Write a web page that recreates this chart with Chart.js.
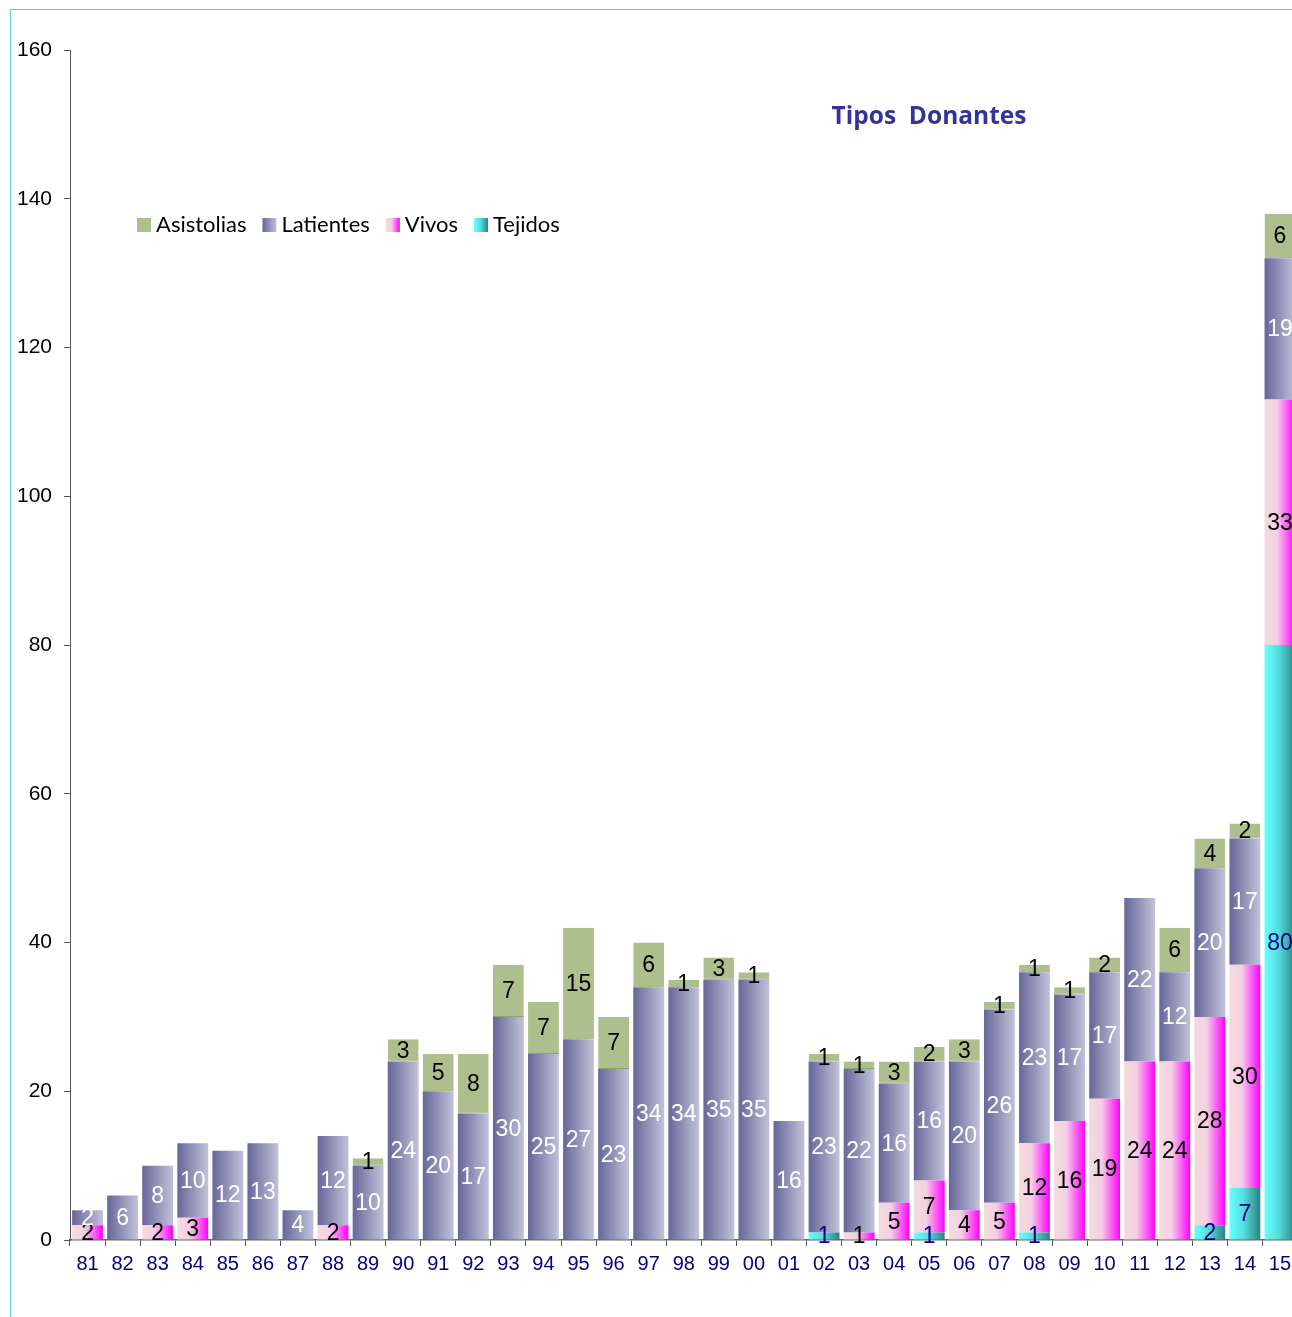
<!DOCTYPE html>
<html>
<head>
<meta charset="utf-8">
<script src="https://cdn.jsdelivr.net/npm/chart.js@4/dist/chart.umd.min.js"></script>
<style>
  html, body { margin: 0; padding: 0; background: #fff; overflow: hidden; }
  #frame { position: absolute; left: 10px; top: 9px; width: 1400px; height: 1400px;
           border-top: 1px solid #5fd0d0; border-left: 1px solid #5fd0d0; }
  #wrap { position: absolute; left: 0; top: 0; width: 1302px; height: 1317px; }
</style>
</head>
<body>
<div id="frame"></div>
<div id="wrap"><canvas id="donantes" width="1302" height="1317"></canvas></div>
<script>
var years = ['81','82','83','84','85','86','87','88','89','90','91','92','93','94','95','96','97','98','99',
             '00','01','02','03','04','05','06','07','08','09','10','11','12','13','14','15'];
var tejidos    = [0,0,0,0,0,0,0,0,0,0, 0,0,0,0,0,0,0,0,0,0, 0,1,0,0,1,0,0,1,0,0, 0,0,2,7,80];
var vivos      = [2,0,2,3,0,0,0,2,0,0, 0,0,0,0,0,0,0,0,0,0, 0,0,1,5,7,4,5,12,16,19, 24,24,28,30,33];
var latientes  = [2,6,8,10,12,13,4,12,10,24, 20,17,30,25,27,23,34,34,35,35, 16,23,22,16,16,20,26,23,17,17, 22,12,20,17,19];
var asistolias = [0,0,0,0,0,0,0,0,1,3, 5,8,7,7,15,7,6,1,3,1, 0,1,1,3,2,3,1,1,1,2, 0,6,4,2,6];

var BAR_PCT = 0.88;

// horizontal gradient across each bar
function barGradient(stops, fallback) {
    return function (c) {
        var chart = c.chart;
        var xs = chart.scales && chart.scales.x;
        if (!chart.chartArea || !xs || c.dataIndex === undefined) return fallback;
        var x = xs.getPixelForValue(c.dataIndex);
        var half = xs.width / years.length * BAR_PCT / 2;
        var g = chart.ctx.createLinearGradient(x - half, 0, x + half, 0);
        stops.forEach(function (s) { g.addColorStop(s[0], s[1]); });
        return g;
    };
}

var gradTejidos = [[0, '#66ffff'], [0.45, '#55dede'], [1, '#2e8282']];
var gradVivos = [[0, '#f2dcdb'], [0.4, '#f5cfe5'], [1, '#ff00ff']];
var gradLatientes = [[0, '#666699'], [1, '#c2c2da']];

var labelColors = ['#000080', '#000000', '#ffffff', '#000000'];

var segmentLabels = {
    id: 'segmentLabels',
    afterDatasetsDraw: function (chart) {
        var ctx = chart.ctx;
        ctx.save();
        ctx.font = '23px "Liberation Sans", Arial, sans-serif';
        ctx.textAlign = 'center';
        ctx.textBaseline = 'middle';
        chart.data.datasets.forEach(function (ds, i) {
            var meta = chart.getDatasetMeta(i);
            meta.data.forEach(function (bar, j) {
                var v = ds.data[j];
                if (!v) return;
                ctx.fillStyle = labelColors[i];
                ctx.fillText(String(v), bar.x, (bar.y + bar.base) / 2 + 1);
            });
        });
        ctx.restore();
    }
};

var titleAndLegend = {
    id: 'titleAndLegend',
    afterDraw: function (chart) {
        var ctx = chart.ctx;
        ctx.save();
        ctx.font = 'bold 24.5px "Open Sans", Lato, sans-serif';
        ctx.fillStyle = '#333399';
        ctx.textAlign = 'center';
        ctx.textBaseline = 'middle';
        ctx.fillText('Tipos  Donantes', 929, 117);

        var items = [
            { text: 'Asistolias', fill: '#adbf8c' },
            { text: 'Latientes', stops: gradLatientes },
            { text: 'Vivos', stops: gradVivos },
            { text: 'Tejidos', stops: gradTejidos }
        ];
        ctx.font = '22px Lato, "Open Sans", sans-serif';
        ctx.textAlign = 'left';
        ctx.fillStyle = '#000';
        var x = 137, y = 225, box = 14;
        items.forEach(function (it) {
            if (it.fill) {
                ctx.fillStyle = it.fill;
            } else {
                var g = ctx.createLinearGradient(x, 0, x + box, 0);
                it.stops.forEach(function (s) { g.addColorStop(s[0], s[1]); });
                ctx.fillStyle = g;
            }
            ctx.fillRect(x, y - box / 2, box, box);
            ctx.fillStyle = '#000';
            ctx.fillText(it.text, x + box + 5, y);
            x += box + 5 + ctx.measureText(it.text).width + 16;
        });
        ctx.restore();
    }
};

new Chart(document.getElementById('donantes'), {
    type: 'bar',
    data: {
        labels: years,
        datasets: [
            { label: 'Tejidos', data: tejidos, backgroundColor: barGradient(gradTejidos, '#44c0c0') },
            { label: 'Vivos', data: vivos, backgroundColor: barGradient(gradVivos, '#f77ff0') },
            { label: 'Latientes', data: latientes, backgroundColor: barGradient(gradLatientes, '#9494b8') },
            { label: 'Asistolias', data: asistolias, backgroundColor: '#adbf8c',
              borderColor: '#8aa468', borderWidth: { top: 0, left: 0, right: 0, bottom: 1 }, borderSkipped: false }
        ]
    },
    options: {
        responsive: false,
        animation: false,
        events: [],
        barPercentage: BAR_PCT,
        categoryPercentage: 1,
        layout: { padding: { left: 10, top: 50, right: 4.5, bottom: 37 } },
        plugins: { legend: { display: false }, title: { display: false }, tooltip: { enabled: false } },
        scales: {
            x: {
                stacked: true,
                afterFit: function (s) { s.height = 40; },
                grid: { display: true, drawOnChartArea: false, tickLength: 6, color: '#555', offset: true },
                border: { color: '#666', width: 1.5 },
                ticks: { color: '#000080', padding: 6, maxRotation: 0, autoSkip: false,
                         font: { family: '"Liberation Sans", Arial', size: 20 } }
            },
            y: {
                stacked: true,
                min: 0, max: 160,
                afterFit: function (s) { s.width = 60; },
                grid: { display: true, drawOnChartArea: false, tickLength: 6, color: '#555' },
                border: { color: '#555', width: 1 },
                ticks: { stepSize: 20, color: '#000', padding: 12,
                         font: { family: '"Liberation Sans", Arial', size: 21 } }
            }
        }
    },
    plugins: [segmentLabels, titleAndLegend]
});
</script>
</body>
</html>
